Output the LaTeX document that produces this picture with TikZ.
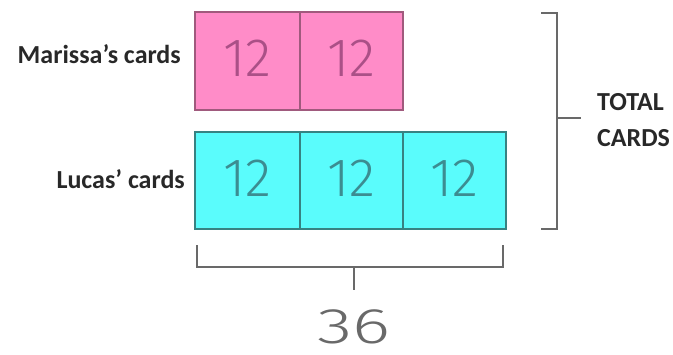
\documentclass[tikz,border=0pt]{standalone}
\usepackage{fontspec}
\setmainfont{Carlito}
\newfontfamily\handfont{Fira Sans Light}
\definecolor{pinkfill}{RGB}{255,140,200}
\definecolor{pinkline}{RGB}{160,90,125}
\definecolor{pinktext}{RGB}{170,80,135}
\definecolor{cyanfill}{RGB}{90,252,252}
\definecolor{cyanline}{RGB}{55,130,130}
\definecolor{cyantext}{RGB}{60,140,145}
\definecolor{brk}{RGB}{105,105,105}
\definecolor{lbl}{RGB}{40,40,40}
\begin{document}
\begin{tikzpicture}[x=1pt,y=-1pt,
  pinkcell/.style={draw=pinkline,line width=1.6pt,fill=pinkfill,minimum height=98pt,inner sep=0pt},
  cyancell/.style={draw=cyanline,line width=1.6pt,fill=cyanfill,minimum height=97pt,inner sep=0pt},
  num/.style={inner sep=0pt,font=\handfont\fontsize{54}{54}\selectfont},
  brace/.style={draw=brk,line width=1.8pt},
  lab/.style={text=lbl,font=\bfseries\fontsize{26}{26}\selectfont,inner sep=0pt},
  tot/.style={text=lbl,font=\bfseries\fontsize{26}{26}\selectfont,inner sep=0pt}]
\useasboundingbox (0,0) rectangle (673,354);
% Marissa
\node[pinkcell,minimum width=105pt] (m1) at (247.5,61) {};
\node[pinkcell,minimum width=103pt] (m2) at (351.5,61) {};
\node[num,text=pinktext] (m1t) at (247.5,58) {12};
\node[num,text=pinktext] (m2t) at (351.5,58) {12};
% Lucas
\node[cyancell,minimum width=105pt] (l1) at (247.5,180.5) {};
\node[cyancell,minimum width=103pt] (l2) at (351.5,180.5) {};
\node[cyancell,minimum width=103pt] (l3) at (454.5,180.5) {};
\node[num,text=cyantext] (l1t) at (247.5,178) {12};
\node[num,text=cyantext] (l2t) at (351.5,178) {12};
\node[num,text=cyantext] (l3t) at (454.5,178) {12};
% labels
\node[lab,anchor=base east] (ml) at (181,63) {Marissa’s cards};
\node[lab,anchor=base east] (ll) at (185,188) {Lucas’ cards};
% right bracket
\coordinate (rt0) at (541,13);
\coordinate (rt1) at (557,13);
\coordinate (rb1) at (557,229);
\coordinate (rb0) at (541,229);
\coordinate (rm0) at (557,118);
\coordinate (rm1) at (581,118);
\draw[brace] (rt0) -- (rt1) -- (rb1) -- (rb0);
\draw[brace] (rm0) -- (rm1);
\node[tot,anchor=base west] (t1) at (597,110) {TOTAL};
\node[tot,anchor=base west] (t2) at (597,146) {CARDS};
% bottom bracket
\coordinate (bl0) at (197,245);
\coordinate (bl1) at (197,267);
\coordinate (br1) at (503,267);
\coordinate (br0) at (503,245);
\coordinate (bm0) at (354,267);
\coordinate (bm1) at (354,290);
\draw[brace] (bl0) -- (bl1) -- (br1) -- (br0);
\draw[brace] (bm0) -- (bm1);
\node[text=brk,font=\handfont\fontsize{50}{50}\selectfont,inner sep=0pt,xscale=1.45,transform shape] (tot36) at (354,327) {36};
\end{tikzpicture}
\end{document}
